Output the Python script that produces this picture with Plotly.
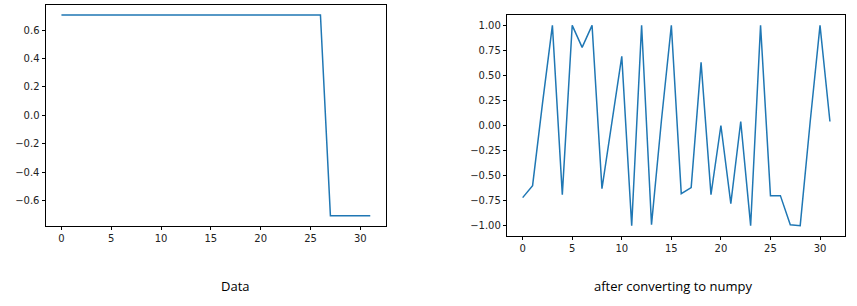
import plotly.graph_objects as go

x_idx = list(range(32))
data_values = [0.707] * 27 + [-0.707] * 5
numpy_values = [-0.72, -0.6, 0.22, 1.0, -0.69, 1.0, 0.78, 1.0, -0.63, 0.05,
                0.69, -1.0, 1.0, -0.99, 0.05, 1.0, -0.68, -0.62, 0.63, -0.69,
                0.0, -0.78, 0.04, -1.0, 1.0, -0.70, -0.70, -0.99, -1.0, 0.03,
                1.0, 0.04]
left_ticks = [-0.6, -0.4, -0.2, 0.0, 0.2, 0.4, 0.6]
right_ticks = [-1.0, -0.75, -0.5, -0.25, 0.0, 0.25, 0.5, 0.75, 1.0]
x_ticks = [0, 5, 10, 15, 20, 25, 30]
captions = ["Data", "after converting to numpy"]

W, H = 857, 306
color = "#1f77b4"

fig = go.Figure()
fig.add_trace(go.Scatter(x=x_idx, y=data_values, mode="lines",
                         line=dict(color=color, width=1.5), xaxis="x", yaxis="y"))
fig.add_trace(go.Scatter(x=x_idx, y=numpy_values, mode="lines",
                         line=dict(color=color, width=1.5), xaxis="x2", yaxis="y2"))

axis_common = dict(showline=True, linecolor="black", linewidth=1, mirror=True,
                   ticks="outside", ticklen=3.5, tickcolor="black", tickwidth=1,
                   showgrid=False, zeroline=False,
                   tickfont=dict(family="DejaVu Sans", size=10, color="#222"))

fig.update_layout(
    width=W, height=H, margin=dict(l=0, r=0, t=0, b=0),
    paper_bgcolor="white", plot_bgcolor="white", showlegend=False,
    xaxis=dict(domain=[46 / W, 385.7 / W], range=[-1.55, 32.55], tickvals=x_ticks,
               anchor="y", **axis_common),
    yaxis=dict(domain=[(H - 225.7) / H, (H - 5) / H], range=[-0.778, 0.778],
               tickvals=left_ticks, tickformat=".1f", anchor="x", **axis_common),
    xaxis2=dict(domain=[507.3 / W, 845.3 / W], range=[-1.55, 32.55], tickvals=x_ticks,
                anchor="y2", **axis_common),
    yaxis2=dict(domain=[(H - 235.7) / H, (H - 15.3) / H], range=[-1.1, 1.1],
                tickvals=right_ticks, tickformat=".2f", anchor="x2", **axis_common),
)

fig.add_annotation(text=captions[0], x=235 / W, y=(H - 286) / H, xref="paper", yref="paper",
                   xanchor="center", yanchor="middle", showarrow=False,
                   font=dict(family="Open Sans", size=13, color="black"))
fig.add_annotation(text=captions[1], x=673 / W, y=(H - 286) / H, xref="paper", yref="paper",
                   xanchor="center", yanchor="middle", showarrow=False,
                   font=dict(family="Open Sans", size=13, color="black"))

fig.write_html("out.html")
